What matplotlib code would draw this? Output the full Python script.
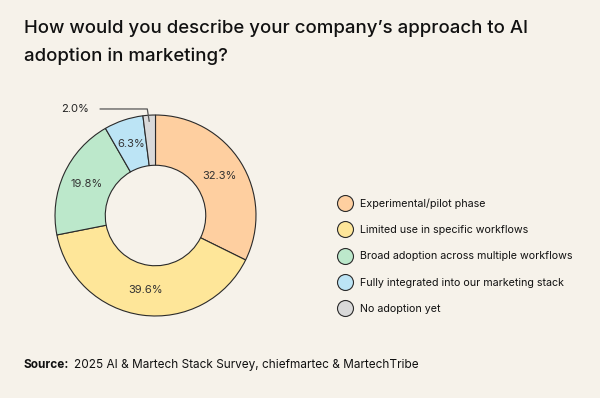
import matplotlib
matplotlib.use('Agg')
import matplotlib.pyplot as plt
from matplotlib.lines import Line2D
import numpy as np

plt.rcParams['font.family'] = ['Inter', 'DejaVu Sans']

categories = ['Experimental/pilot phase', 'Limited use in specific workflows',
              'Broad adoption across multiple workflows',
              'Fully integrated into our marketing stack', 'No adoption yet']
values = [32.3, 39.6, 19.8, 6.3, 2.0]
colors = ['#FECFA0', '#FEE699', '#BCE8CB', '#BCE4F5', '#D9D9D9']

bg = '#F6F2EA'
edge = '#2A2A2A'

fig = plt.figure(figsize=(6, 3.98), dpi=100)
fig.patch.set_facecolor(bg)

fig.text(24/600, 1 - 28/398, "How would you describe your company\u2019s approach to AI",
         fontsize=13.4, weight='medium', color='#111111', va='center', ha='left')
fig.text(24/600, 1 - 56/398, "adoption in marketing?",
         fontsize=13.4, weight='medium', color='#111111', va='center', ha='left')

ax = fig.add_axes([53/600, 80/398, 205/600, 205/398])
ax.set_facecolor(bg)
wedges, _ = ax.pie(values, colors=colors, startangle=90, counterclock=False,
                   radius=1, wedgeprops=dict(width=0.5, edgecolor=edge, linewidth=0.8))
ax.set_xlim(-1.02, 1.02)
ax.set_ylim(-1.02, 1.02)
ax.set_aspect('equal')
ax.axis('off')

for w, v in zip(wedges, values):
    ang = np.deg2rad((w.theta1 + w.theta2) / 2)
    if v < 3:
        x0, y0 = 1.0 * np.cos(ang), 0.94 * np.sin(ang)
        x1, y1 = 1.3 * np.cos(ang), 1.06
        ax.plot([x0, x1, -0.55], [y0, y1, y1], color='#555555', lw=0.9, clip_on=False)
        ax.text(-0.66, y1, f'{v:.1f}%', ha='right', va='center', fontsize=8, color='#222222')
    else:
        r = 0.75
        ax.text(r * np.cos(ang), r * np.sin(ang), f'{v:.1f}%', ha='center', va='center',
                fontsize=8, color='#333333')

handles = [Line2D([0], [0], marker='o', linestyle='', markersize=11.5,
                  markerfacecolor=c, markeredgecolor=edge, markeredgewidth=0.8)
           for c in colors]
fig.legend(handles, categories, loc='center left', bbox_to_anchor=(339.6/600, 1 - 256/398),
           frameon=False, fontsize=7.7, labelspacing=1.52, handletextpad=0.9,
           handlelength=1.0, borderpad=0, borderaxespad=0, labelcolor='#111111')

fig.text(24/600, 1 - 365/398, 'Source:', fontsize=8.5, weight='bold', va='center', ha='left',
         color='#111111')
fig.text(74/600, 1 - 365/398, '2025 AI & Martech Stack Survey, chiefmartec & MartechTribe',
         fontsize=8.5, va='center', ha='left', color='#111111')

fig.savefig('out.png', dpi=100, facecolor=bg)
